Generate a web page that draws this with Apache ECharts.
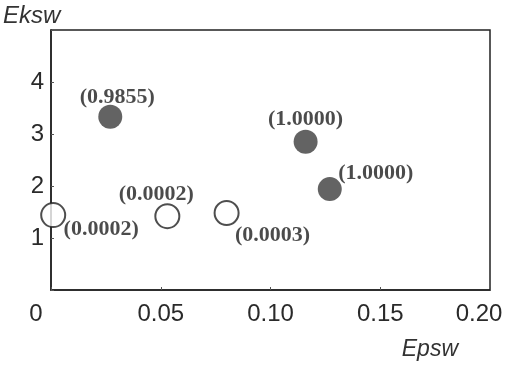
<!DOCTYPE html>
<html lang="en">
<head>
    <meta charset="UTF-8">
    <title>Eksw vs Epsw</title>
    <script src="https://cdn.jsdelivr.net/npm/echarts@6/dist/echarts.min.js"></script>
    <style>
        html, body { margin: 0; padding: 0; background: #fff; }
        #chart { width: 507px; height: 365px; }
    </style>
</head>
<body>
    <div id="chart"></div>
    <script>
        // values
        var epsw = [0.001, 0.053, 0.080, 0.027, 0.116, 0.127];
        var eksw = [1.44, 1.42, 1.48, 3.33, 2.85, 1.94];
        var pValues = ['0.0002', '0.0002', '0.0003', '0.9855', '1.0000', '1.0000'];
        var isFilled = [false, false, false, true, true, true];
        var xTicks = [0, 0.05, 0.10, 0.15, 0.20];
        var yTicks = [1, 2, 3, 4];

        // where each (p) label sits relative to its point
        var labelOffsets = [[48, 14], [-11, -22], [46, 22], [7, -20], [0, -22], [46, -16]];

        var chart = echarts.init(document.getElementById('chart'));

        function buildPoints(filled) {
            var out = [];
            for (var i = 0; i < epsw.length; i++) {
                if (isFilled[i] !== filled) continue;
                out.push({
                    value: [epsw[i], eksw[i]],
                    label: { offset: labelOffsets[i], formatter: '(' + pValues[i] + ')' }
                });
            }
            return out;
        }

        var pointLabel = {
            show: true,
            position: 'inside',
            fontFamily: 'Liberation Serif',
            fontWeight: 'bold',
            fontSize: 22,
            color: '#1e1e1e'
        };

        var tickFont = { fontFamily: 'Liberation Sans', fontSize: 24, color: '#2a2a2a' };

        var option = {
            animation: false,
            grid: {
                left: 51, right: 17, top: 30, bottom: 75,
                outerBoundsMode: 'none',
                containLabel: false,
                show: true,
                borderColor: '#222',
                borderWidth: 1.5
            },
            xAxis: {
                type: 'value',
                min: 0, max: 0.2, interval: 0.05,
                name: 'Epsw',
                nameLocation: 'end',
                nameGap: 0,
                nameTextStyle: {
                    fontFamily: 'Liberation Sans', fontStyle: 'italic', fontSize: 23, color: '#333',
                    align: 'right', verticalAlign: 'top', padding: [48, 32, 0, 0]
                },
                splitLine: { show: false },
                axisLine: { lineStyle: { color: '#222', width: 1.5 } },
                axisTick: { inside: true, length: 3, lineStyle: { color: '#555' } },
                axisLabel: {
                    margin: 12,
                    fontFamily: 'Liberation Sans', fontSize: 24, color: '#2a2a2a',
                    formatter: function (v) {
                        if (xTicks.indexOf(v) < 0) return '';
                        if (v === 0) return '{first|0}';
                        if (v === 0.2) return '{last|0.20}';
                        return v.toFixed(2);
                    },
                    rich: {
                        first: Object.assign({ padding: [0, 30, 0, 0] }, tickFont),
                        last: Object.assign({ padding: [0, 22, 0, 0] }, tickFont)
                    }
                }
            },
            yAxis: {
                type: 'value',
                min: 0, max: 5, interval: 1,
                name: 'Eksw',
                nameLocation: 'end',
                nameGap: 0,
                nameTextStyle: {
                    fontFamily: 'Liberation Sans', fontStyle: 'italic', fontSize: 24, color: '#333',
                    align: 'left', verticalAlign: 'bottom', padding: [0, 0, 2, -48]
                },
                splitLine: { show: false },
                axisLine: { lineStyle: { color: '#222', width: 1.5 } },
                axisTick: { inside: true, length: 3, lineStyle: { color: '#555' } },
                axisLabel: {
                    margin: 7,
                    fontFamily: 'Liberation Sans', fontSize: 24, color: '#2a2a2a',
                    formatter: function (v) { return yTicks.indexOf(v) < 0 ? '' : String(v); }
                }
            },
            series: [
                {
                    name: 'open',
                    type: 'scatter',
                    symbol: 'circle',
                    symbolSize: 24,
                    itemStyle: { color: '#fff', borderColor: '#222', borderWidth: 2 },
                    label: pointLabel,
                    data: buildPoints(false)
                },
                {
                    name: 'filled',
                    type: 'scatter',
                    symbol: 'circle',
                    symbolSize: 24,
                    itemStyle: { color: '#3c3c3c' },
                    label: pointLabel,
                    data: buildPoints(true)
                }
            ]
        };

        chart.setOption(option);
    </script>
</body>
</html>
